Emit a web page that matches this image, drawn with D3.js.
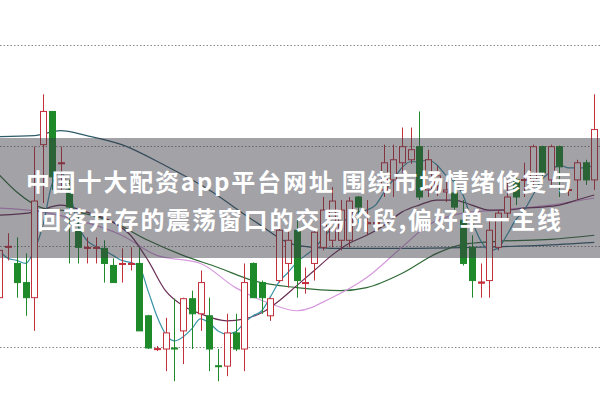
<!DOCTYPE html>
<html>
<head>
<meta charset="utf-8">
<script src="https://cdn.jsdelivr.net/npm/d3@7"></script>
<style>
  html, body { margin: 0; padding: 0; background: #fff; overflow: hidden; }
</style>
</head>
<body>
<svg id="chart" width="600" height="397"></svg>
<script>
// candle data, one entry per trading day (index = position)
var opens  = [10.745,10.995,10.915,10.82,10.745,11.505,11.67,11.41,11.28,11.08,10.99,10.99,10.99,10.905,10.91,10.91,10.915,10.655,10.488,10.49,10.495,10.58,10.74,10.665,10.655,10.407,10.405,10.57,10.49,10.915,10.82,10.655,10.83,10.915,11.08,10.815,10.915,10.995,11.03,11.03,11.03,11.245,11.112,11.112,11.28,11.33,11.415,11.43,11.495,11.28,11.3,11.27,11.265,11.13,10.995,10.817,10.83,10.995,11.165,11.33,11.328,11.33,11.495,11.33,11.495,11.278,11.33,11.415,11.33];
var closes = [10.98,11.0,10.82,10.745,11.225,11.67,11.345,11.415,11.195,10.995,10.995,10.995,10.915,10.82,10.915,10.915,10.58,10.495,10.492,10.57,10.49,10.74,10.665,10.82,10.49,10.403,10.57,10.49,10.82,10.745,10.745,10.74,11.08,11.03,10.83,10.82,11.07,11.18,11.225,11.18,11.225,11.195,11.118,11.118,11.415,11.43,11.495,11.48,11.245,11.43,11.35,11.28,11.195,10.915,10.83,10.823,11.08,11.165,11.245,11.245,11.332,11.495,11.365,11.495,11.395,11.282,11.415,11.33,11.58];
var highs  = [11.05,11.065,11.045,10.965,11.495,11.755,11.67,11.495,11.33,11.155,11.045,11.045,11.03,10.94,10.99,10.995,10.995,10.66,10.505,10.645,10.74,10.745,10.78,10.88,10.745,10.49,10.665,10.665,10.915,10.92,10.83,10.745,11.13,11.08,11.13,10.895,11.09,11.245,11.295,11.23,11.245,11.25,11.23,11.18,11.505,11.505,11.59,11.59,11.67,11.48,11.4,11.33,11.33,11.23,11.055,10.915,11.13,11.18,11.33,11.355,11.415,11.505,11.5,11.505,11.5,11.3,11.43,11.43,11.755];
var lows   = [10.745,10.93,10.745,10.655,10.58,11.215,11.28,11.28,10.915,10.915,10.915,10.915,10.82,10.82,10.82,10.88,10.58,10.49,10.48,10.38,10.33,10.415,10.49,10.58,10.38,10.33,10.355,10.48,10.38,10.745,10.665,10.63,10.82,10.795,10.745,10.765,10.83,10.98,10.995,10.98,10.995,11.115,11.055,11.08,11.245,11.245,11.365,11.41,11.23,11.245,11.25,11.22,11.155,10.905,10.745,10.745,10.745,10.98,11.13,11.205,11.245,11.305,11.33,11.305,11.245,11.25,11.23,11.305,11.28];

// moving averages: [day index, value]
var ma5 = [10.98,10.94,10.93,10.915,10.98,11.105,11.305,11.37,11.28,11.105,11.03,11.0,10.98,10.955,10.93,10.92,10.90,10.78,10.655,10.565,10.53,10.55,10.59,10.64,10.62,10.58,10.565,10.575,10.62,10.655,10.68,10.75,10.825,10.87,10.92,10.955,10.99,11.04,11.09,11.12,11.14,11.17,11.18,11.205,11.27,11.33,11.39,11.42,11.42,11.43,11.405,11.355,11.32,11.255,11.13,11.03,10.98,10.99,11.055,11.13,11.18,11.255,11.33,11.37,11.405,11.39,11.39,11.39,11.405]
  .map(function(v, i) { return [i, v]; });
var ma10 = [[0,11.155],[4,11.17],[7,11.205],[10,11.17],[13,11.12],[15,11.055],[17,10.93],[19,10.78],[21,10.705],[23,10.665],[26,10.63],[28,10.64],[30,10.67],[32,10.73],[34,10.805],[36,10.88],[38,10.955],[40,11.015],[42,11.055],[44,11.105],[46,11.17],[48,11.205],[50,11.23],[52,11.23],[54,11.205],[56,11.18],[58,11.18],[60,11.19],[62,11.195],[64,11.205],[66,11.23],[68,11.255]];
var ma20 = [[0,11.355],[2,11.27],[5,11.19],[9,11.17],[13,11.12],[17,11.03],[21,10.955],[25,10.895],[29,10.83],[34,10.795],[39,10.78],[42,10.795],[46,10.865],[50,10.965],[53,11.01],[57,11.025],[63,11.035],[68,11.055]];
var ma30 = [[0,11.19],[5,11.17],[9,11.13],[14,11.055],[18,10.955],[23,10.915],[27,10.795],[31,10.715],[34,10.68],[38,10.745],[42,10.845],[46,10.995],[49,11.105],[53,11.165],[57,11.18],[63,11.205],[68,11.24]];
var ma60 = [[0,11.545],[4,11.55],[7,11.575],[10,11.55],[14,11.505],[19,11.40],[24,11.28],[29,11.13],[34,11.005],[38,10.99],[46,10.99],[54,10.995],[62,11.005],[68,11.02]];

var gridLevels = [10.5, 11.0, 11.5, 12.0];
var titleLines = ["中国十大配资app平台网址 围绕市场情绪修复与", "回落并存的震荡窗口的交易阶段,偏好单一主线"];

var w = 600, h = 397;
var svg = d3.select("#chart");

var x = d3.scaleLinear().domain([0, 68]).range([-0.75, 594.25]);
var y = d3.scaleLinear().domain([10.5, 12.0]).range([347, 45]);

var upColor = "#c2303c", downColor = "#1e8a2a";
var bodyW = 6;

// dotted grid
svg.append("g").selectAll("line")
  .data(gridLevels)
  .enter().append("line")
  .attr("x1", 0).attr("x2", w)
  .attr("y1", function(d) { return Math.round(y(d)) + 0.5; })
  .attr("y2", function(d) { return Math.round(y(d)) + 0.5; })
  .attr("stroke", "#8a8a8a")
  .attr("stroke-width", 1)
  .attr("stroke-dasharray", "1.5,2");

// moving average lines
var line = d3.line()
  .x(function(d) { return x(d[0]); })
  .y(function(d) { return y(d[1]); })
  .curve(d3.curveMonotoneX);

[[ma60, "#2f5c6a"], [ma20, "#2f6b36"], [ma30, "#d79ade"], [ma10, "#6b2f55"], [ma5, "#3a93a8"]]
  .forEach(function(s) {
    svg.append("path")
      .attr("d", line(s[0]))
      .attr("fill", "none")
      .attr("stroke", s[1])
      .attr("stroke-width", 1.2);
  });

// candles
var candles = opens.map(function(o, i) {
  return { i: i, o: o, c: closes[i], hi: highs[i], lo: lows[i], up: closes[i] >= o };
});

var cg = svg.append("g");
candles.forEach(function(d) {
  var cx = Math.round(x(d.i)) + 0.5;
  var col = d.up ? upColor : downColor;
  cg.append("line")
    .attr("x1", cx).attr("x2", cx)
    .attr("y1", y(d.hi)).attr("y2", y(d.lo))
    .attr("stroke", col).attr("stroke-width", 1);
  var top = y(Math.max(d.o, d.c)), bot = y(Math.min(d.o, d.c));
  var bh = Math.max(bot - top, 1);
  if (d.up) {
    cg.append("rect")
      .attr("x", cx - bodyW / 2).attr("y", top)
      .attr("width", bodyW).attr("height", bh)
      .attr("fill", bh > 2 ? "#fff" : col)
      .attr("stroke", col).attr("stroke-width", 1);
  } else {
    cg.append("rect")
      .attr("x", cx - bodyW / 2).attr("y", top)
      .attr("width", bodyW).attr("height", bh)
      .attr("fill", col)
      .attr("stroke", col).attr("stroke-width", 1);
  }
});

// caption banner
svg.append("rect")
  .attr("x", 0).attr("y", 138)
  .attr("width", w).attr("height", 120)
  .attr("fill", "rgb(58,58,68)")
  .attr("opacity", 0.47);

svg.append("g").selectAll("text")
  .data(titleLines)
  .enter().append("text")
  .attr("x", 300)
  .attr("y", function(d, i) { return 180 + i * 38; })
  .attr("text-anchor", "middle")
  .attr("dominant-baseline", "central")
  .attr("fill", "#fff")
  .style("font-family", "'Noto Sans CJK SC', 'Noto Sans', sans-serif")
  .style("font-weight", "bold")
  .style("font-size", "24px")
  .style("letter-spacing", "1.8px")
  .text(function(d) { return d; });
</script>
</body>
</html>
